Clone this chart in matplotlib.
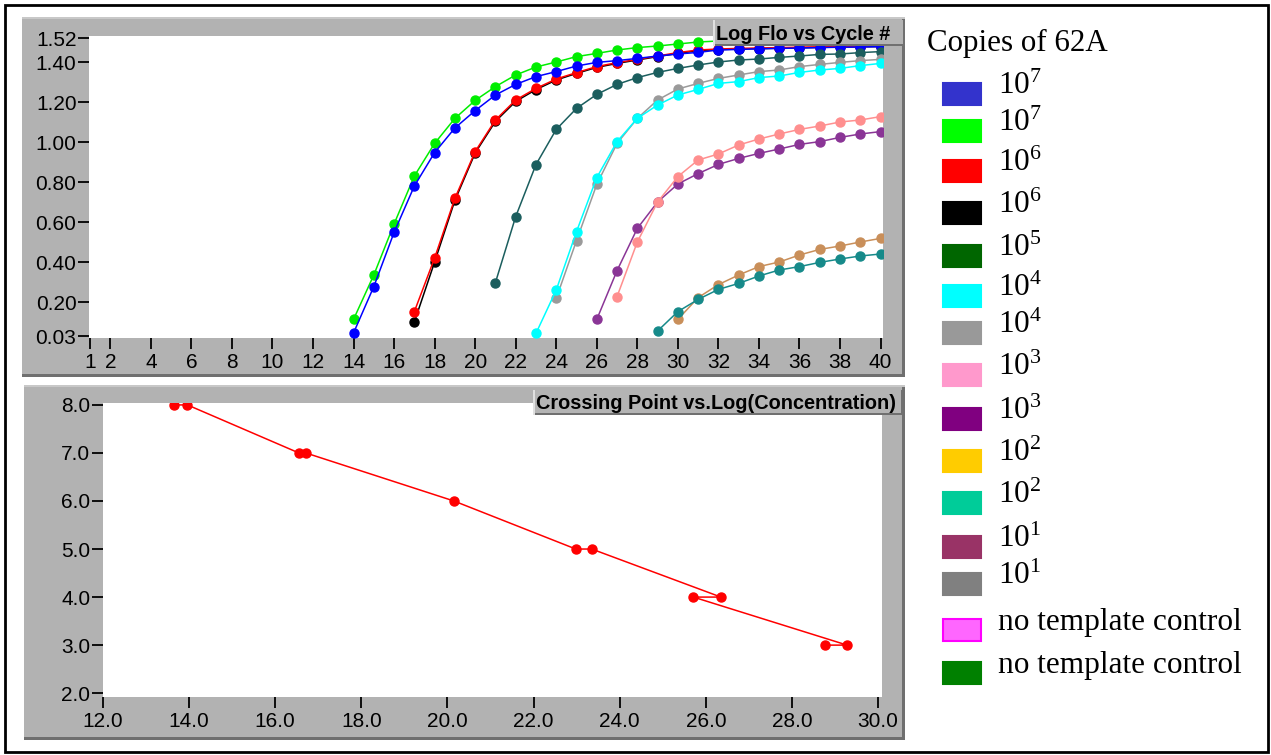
"""qPCR amplification curves + standard curve (Log Flo vs Cycle, Crossing Point vs Log conc)."""
import matplotlib.pyplot as plt
import numpy as np
from matplotlib.patches import Rectangle

W, H = 1271, 755

plt.rcParams["font.family"] = ["Liberation Sans Narrow", "Liberation Sans"]
plt.rcParams["mathtext.fontset"] = "custom"
plt.rcParams["mathtext.rm"] = "Liberation Serif"
plt.rcParams["mathtext.it"] = "Liberation Serif"

# ---- amplification curves: first cycle with a reading + log fluorescence ----
black_start = 17
black_vals = [0.10, 0.40, 0.708, 0.945, 1.103, 1.203, 1.262, 1.31, 1.343, 1.373, 1.393, 1.41,
              1.427, 1.443, 1.457, 1.462, 1.465, 1.467, 1.469, 1.471, 1.473, 1.475, 1.476, 1.477]
red_start = 17
red_vals = [0.152, 0.42, 0.718, 0.952, 1.11, 1.21, 1.268, 1.315, 1.347, 1.377, 1.397, 1.413,
            1.43, 1.447, 1.46, 1.465, 1.468, 1.47, 1.472, 1.474, 1.476, 1.478, 1.479, 1.48]
green_start = 14
green_vals = [0.113, 0.335, 0.59, 0.83, 0.993, 1.118, 1.208, 1.277, 1.335, 1.375, 1.40, 1.427,
              1.443, 1.46, 1.472, 1.48, 1.49, 1.50, 1.505, 1.51, 1.512, 1.514, 1.516, 1.517,
              1.518, 1.519, 1.52]
blue_start = 14
blue_vals = [0.045, 0.277, 0.548, 0.78, 0.947, 1.07, 1.157, 1.235, 1.288, 1.327, 1.352, 1.38,
             1.398, 1.407, 1.418, 1.43, 1.44, 1.448, 1.46, 1.463, 1.466, 1.468, 1.47, 1.472,
             1.474, 1.475, 1.477]
slate_start = 21
slate_vals = [0.297, 0.627, 0.887, 1.063, 1.168, 1.238, 1.288, 1.322, 1.348, 1.368, 1.385, 1.40,
              1.41, 1.415, 1.423, 1.43, 1.438, 1.44, 1.447, 1.452]
gray_start = 24
gray_vals = [0.218, 0.507, 0.788, 0.993, 1.118, 1.21, 1.265, 1.293, 1.318, 1.335, 1.352, 1.36,
             1.377, 1.388, 1.398, 1.407, 1.413]
cyan_start = 23
cyan_vals = [0.043, 0.26, 0.552, 0.822, 1.002, 1.118, 1.185, 1.235, 1.263, 1.293, 1.302, 1.322,
             1.33, 1.348, 1.36, 1.368, 1.382, 1.393]
purple_start = 26
purple_vals = [0.113, 0.357, 0.568, 0.70, 0.79, 0.842, 0.888, 0.918, 0.943, 0.965, 0.988, 1.002,
               1.023, 1.04, 1.052]
pink_start = 27
pink_vals = [0.227, 0.50, 0.70, 0.827, 0.91, 0.94, 0.985, 1.015, 1.04, 1.063, 1.08, 1.10, 1.11,
             1.127]
tan_start = 30
tan_vals = [0.113, 0.222, 0.287, 0.335, 0.377, 0.40, 0.435, 0.463, 0.48, 0.50, 0.518]
teal_start = 29
teal_vals = [0.055, 0.152, 0.213, 0.263, 0.293, 0.33, 0.36, 0.377, 0.398, 0.415, 0.43, 0.44]

top_xticks = [1, 2, 4, 6, 8, 10, 12, 14, 16, 18, 20, 22, 24, 26, 28, 30, 32, 34, 36, 38, 40]
top_yticks = [0.03, 0.20, 0.40, 0.60, 0.80, 1.00, 1.20, 1.40, 1.52]

# ---- standard curve: crossing point vs log(concentration) ----
crossing_pt = [13.64, 13.96, 16.55, 16.71, 20.15, 22.98, 23.35, 26.35, 25.71, 29.28, 28.77]
log_conc = [8, 8, 7, 7, 6, 5, 5, 4, 4, 3, 3]
bot_xticks = [12, 14, 16, 18, 20, 22, 24, 26, 28, 30]
bot_yticks = [2, 3, 4, 5, 6, 7, 8]

# ---- legend ----
legend_labels = [r"$\mathrm{10}^{\mathrm{7}}$", r"$\mathrm{10}^{\mathrm{7}}$",
                 r"$\mathrm{10}^{\mathrm{6}}$", r"$\mathrm{10}^{\mathrm{6}}$",
                 r"$\mathrm{10}^{\mathrm{5}}$", r"$\mathrm{10}^{\mathrm{4}}$",
                 r"$\mathrm{10}^{\mathrm{4}}$", r"$\mathrm{10}^{\mathrm{3}}$",
                 r"$\mathrm{10}^{\mathrm{3}}$", r"$\mathrm{10}^{\mathrm{2}}$",
                 r"$\mathrm{10}^{\mathrm{2}}$", r"$\mathrm{10}^{\mathrm{1}}$",
                 r"$\mathrm{10}^{\mathrm{1}}$", "no template control", "no template control"]
legend_colors = ["#3333cc", "#00ff00", "#ff0000", "#000000", "#006600", "#00ffff", "#999999",
                 "#ff99cc", "#800080", "#ffcc00", "#00cc99", "#993366", "#808080", "#ff66ff",
                 "#008000"]
legend_edges = legend_colors[:13] + ["#ff00ff", "#008000"]
# swatch centres (pixels from top) as laid out in the original
legend_rows_y = [94, 131, 171, 213, 256, 296, 333, 375, 419, 461, 503, 547, 584, 630, 673]

fig = plt.figure(figsize=(W / 100, H / 100), dpi=100)


def frect(x0, y0, x1, y1, **kw):
    r = Rectangle((x0 / W, 1 - y1 / H), (x1 - x0) / W, (y1 - y0) / H,
                  transform=fig.transFigure, **kw)
    fig.add_artist(r)
    return r


def panel(x0, y0, x1, y1):
    frect(x0, y0, x1, y1, facecolor="#b2b2b2", edgecolor="none", zorder=-5)
    frect(x0, y1 - 3, x1, y1, facecolor="#6f6f6f", edgecolor="none", zorder=-4)
    frect(x1 - 3, y0, x1, y1, facecolor="#6f6f6f", edgecolor="none", zorder=-4)
    frect(x0, y0, x1, y0 + 2, facecolor="#c8c8c8", edgecolor="none", zorder=-4)


def title_box(x0, y0, x1, y1, text):
    frect(x0, y0, x1, y1, facecolor="#b4b4b4", edgecolor="none", zorder=5)
    frect(x0, y1 - 2, x1, y1, facecolor="#707070", edgecolor="none", zorder=6)
    frect(x1 - 2, y0, x1, y1, facecolor="#707070", edgecolor="none", zorder=6)
    frect(x0, y0, x0 + 2, y1, facecolor="#e0e0e0", edgecolor="none", zorder=6)
    fig.text((x0 + 3) / W, 1 - ((y0 + y1) / 2 + 1) / H, text, fontsize=14.3, fontweight="bold",
             ha="left", va="center", zorder=7)


def add_ax(x0, y0, x1, y1):
    a = fig.add_axes([x0 / W, 1 - y1 / H, (x1 - x0) / W, (y1 - y0) / H])
    a.set_facecolor("white")
    for s in a.spines.values():
        s.set_visible(False)
    a.tick_params(axis="both", direction="out", length=8, width=1.3, labelsize=15, colors="black")
    a.tick_params(axis="y", pad=1)
    a.tick_params(axis="x", pad=3)
    return a


# outer border
frect(5, 5, 1268, 752, facecolor="none", edgecolor="black", linewidth=2, zorder=-6)

# ---------------- top: amplification curves ----------------
panel(22, 17, 905, 377)
ax1 = add_ax(89, 36, 883, 338)
curves = [
    (black_start, black_vals, "#000000"),
    (red_start, red_vals, "#ff0000"),
    (green_start, green_vals, "#00ee00"),
    (blue_start, blue_vals, "#0000ff"),
    (slate_start, slate_vals, "#1b5e5e"),
    (gray_start, gray_vals, "#9a9a9a"),
    (cyan_start, cyan_vals, "#00ffff"),
    (purple_start, purple_vals, "#8a3596"),
    (pink_start, pink_vals, "#ff8f8f"),
    (tan_start, tan_vals, "#c98f5a"),
    (teal_start, teal_vals, "#168a8a"),
]
for start, vals, col in curves:
    cyc = np.arange(start, start + len(vals))
    ax1.plot(cyc, vals, color=col, lw=1.1, marker="o", ms=6.5, mec=col, mfc=col)
ax1.set_xlim(0.95, 40.12)
ax1.set_ylim(0.02, 1.53)
ax1.set_xticks(top_xticks)
ax1.set_xticklabels([str(t) for t in top_xticks])
ax1.set_yticks(top_yticks)
ax1.set_yticklabels([f"{t:.2f}" for t in top_yticks])
title_box(713, 20, 905, 46, "Log Flo vs Cycle #")

# ---------------- bottom: standard curve ----------------
panel(24, 385, 905, 740)
ax2 = add_ax(103, 403, 882, 697)
ax2.plot(crossing_pt, log_conc, color="#ff0000", lw=1.1, marker="o", ms=6.5)
ax2.set_xlim(12.0, 30.09)
ax2.set_ylim(1.92, 8.04)
ax2.set_xticks(bot_xticks)
ax2.set_xticklabels([f"{t:.1f}" for t in bot_xticks])
ax2.set_yticks(bot_yticks)
ax2.set_yticklabels([f"{t:.1f}" for t in bot_yticks])
title_box(533, 390, 903, 415, "Crossing Point vs.Log(Concentration)")

# ---------------- legend ----------------
fig.text(927 / W, 1 - 51 / H, "Copies of 62A", family="Liberation Serif", fontsize=22.3,
         ha="left", va="baseline")
for lab, fc, ec, yc in zip(legend_labels, legend_colors, legend_edges, legend_rows_y):
    frect(943, yc - 11, 981, yc + 11, facecolor=fc, edgecolor=ec, linewidth=1.5)
    fig.text(998 / W, 1 - yc / H, lab, family="Liberation Serif", fontsize=22.5,
             ha="left", va="baseline")

fig.savefig("out.png", dpi=100)
